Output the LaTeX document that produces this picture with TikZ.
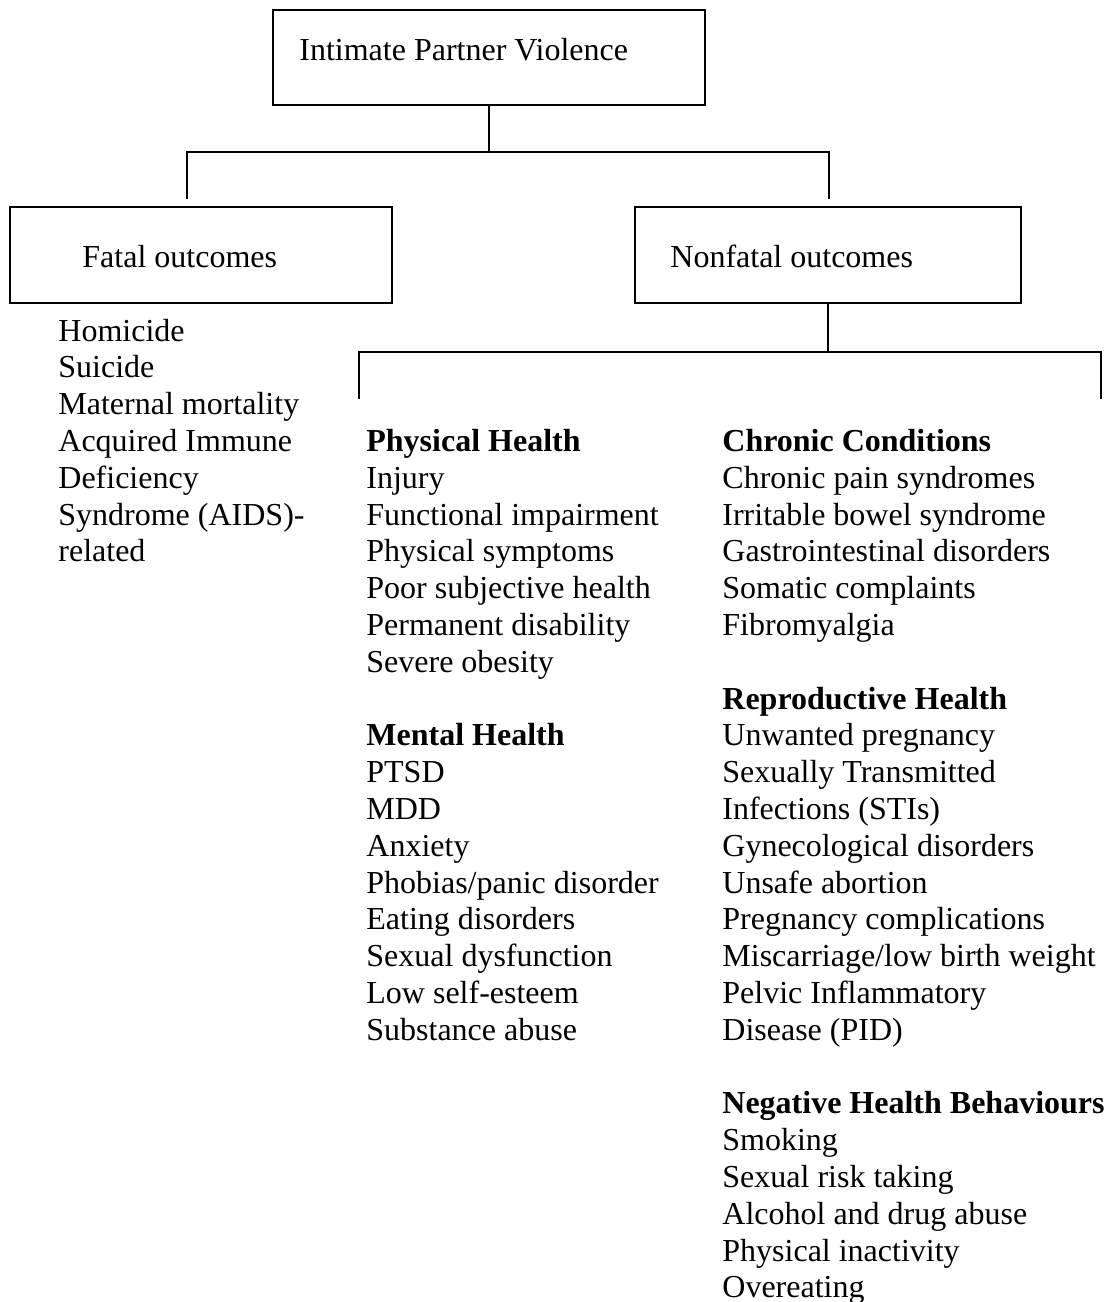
\documentclass[tikz,border=0pt]{standalone}
\usepackage{fontspec}
\setmainfont{Liberation Serif}
\tikzset{
  box/.style={draw, rectangle, line width=1.3pt, inner sep=0pt},
  link/.style={line width=1.1pt},
  item/.style={anchor=base west, inner sep=0pt},
  head/.style={item, font=\fontsize{16}{18.4}\selectfont\bfseries}
}
\begin{document}
\begin{tikzpicture}[x=0.5pt, y=-0.5pt, every node/.style={font=\fontsize{16}{18.4}\selectfont}]
\useasboundingbox (0,0) rectangle (1107,1302);
    % boxes
    \node[box, minimum width=216pt, minimum height=47.5pt] (ipv) at (489,57.5) {};
    \node[box, minimum width=191pt, minimum height=48pt] (fatal) at (201,255) {};
    \node[box, minimum width=193pt, minimum height=48pt] (nonfatal) at (828,255) {};
    \node[item] (ipvtext) at (299,60) {Intimate Partner Violence};
    \node[item] (fataltext) at (82,267) {Fatal outcomes};
    \node[item] (nonfataltext) at (670,267) {Nonfatal outcomes};
    % connectors
    \coordinate (hl) at (187,152);
    \coordinate (hr) at (829,152);
    \coordinate (fd) at (187,199);
    \coordinate (nd) at (829,199);
    \coordinate (bl) at (359,399);
    \coordinate (br) at (1101,399);
    \coordinate (bjl) at (359,352);
    \coordinate (bjr) at (1101,352);
    \draw[link] (ipv.south) -- (ipv.south |- hl);
    \draw[link] (fd) -- (hl) -- (hr) -- (nd);
    \draw[link] (nonfatal.south) -- (nonfatal.south |- bjl);
    \draw[link] (bl) -- (bjl) -- (bjr) -- (br);
    % fatal list
    \foreach \t [count=\i] in {Homicide, Suicide, Maternal mortality, Acquired Immune, Deficiency, {Syndrome (AIDS)-}, related}
        \node[item] (fat\i) at (58, 304.2+36.8*\i) {\t};
    % physical and mental health
    \node[head] (phys) at (366,451.4) {Physical Health};
    \foreach \t [count=\i] in {Injury, Functional impairment, Physical symptoms, Poor subjective health, Permanent disability, Severe obesity}
        \node[item] (phys\i) at (366, 451.4+36.8*\i) {\t};
    \node[head] (ment) at (366,745.8) {Mental Health};
    \foreach \t [count=\i] in {PTSD, MDD, Anxiety, {Phobias/panic disorder}, Eating disorders, Sexual dysfunction, Low self-esteem, Substance abuse}
        \node[item] (ment\i) at (366, 745.8+36.8*\i) {\t};
    % chronic, reproductive, behaviours
    \node[head] (chron) at (722,451.4) {Chronic Conditions};
    \foreach \t [count=\i] in {Chronic pain syndromes, Irritable bowel syndrome, Gastrointestinal disorders, Somatic complaints, Fibromyalgia}
        \node[item] (chron\i) at (722, 451.4+36.8*\i) {\t};
    \node[head] (repro) at (722,709) {Reproductive Health};
    \foreach \t [count=\i] in {Unwanted pregnancy, Sexually Transmitted, {Infections (STIs)}, Gynecological disorders, Unsafe abortion, Pregnancy complications, {Miscarriage/low birth weight}, Pelvic Inflammatory, {Disease (PID)}}
        \node[item] (repro\i) at (722, 709+36.8*\i) {\t};
    \node[head] (behav) at (722,1113.8) {Negative Health Behaviours};
    \foreach \t [count=\i] in {Smoking, Sexual risk taking, Alcohol and drug abuse, Physical inactivity, Overeating}
        \node[item] (behav\i) at (722, 1113.8+36.8*\i) {\t};
\end{tikzpicture}
\end{document}
